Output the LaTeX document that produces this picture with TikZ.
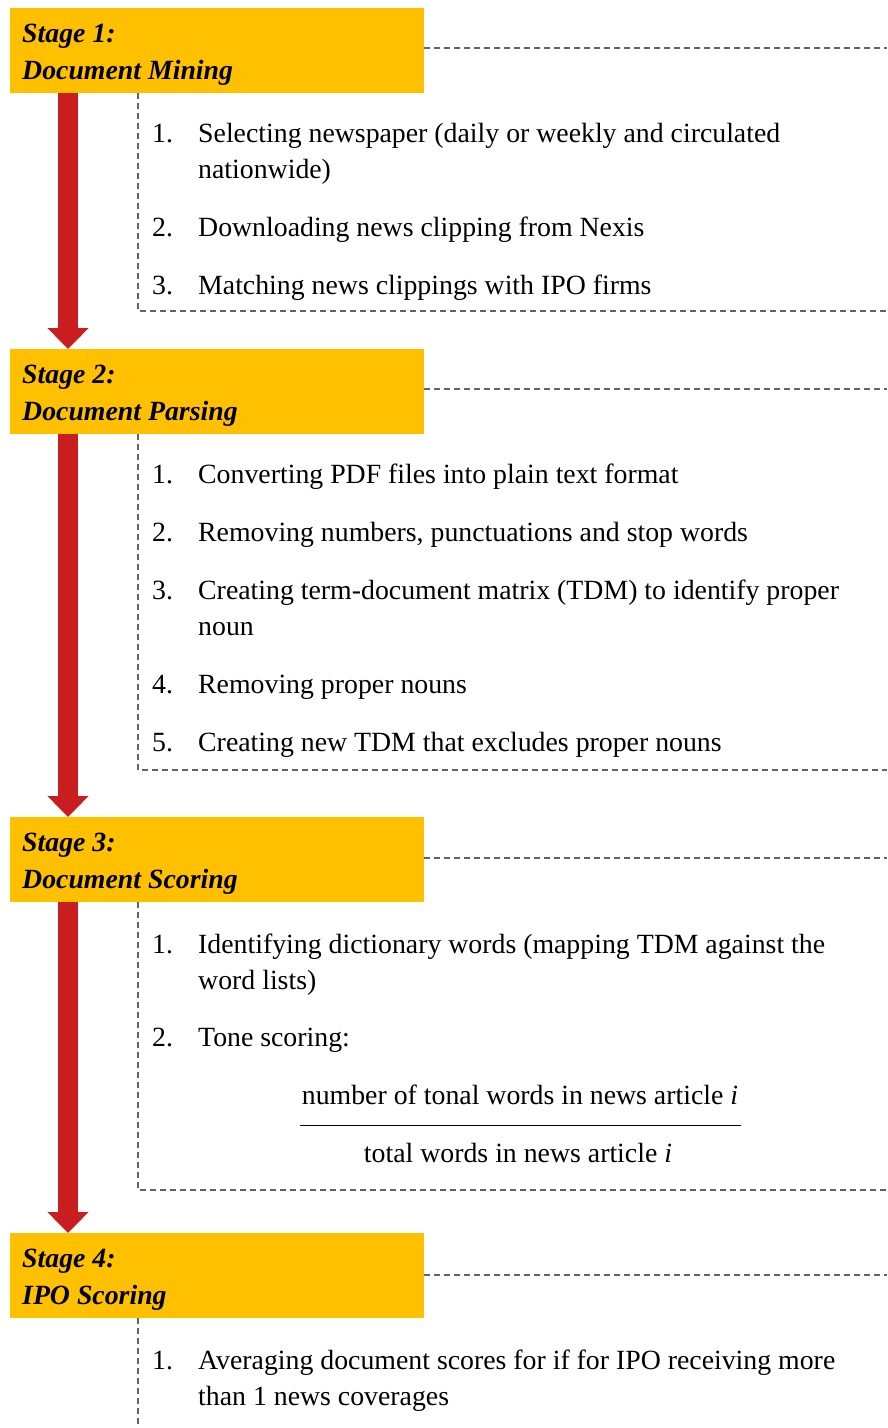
\documentclass[tikz,border=0pt]{standalone}
\usepackage{fontspec}
\setmainfont{Liberation Serif}
\usetikzlibrary{arrows.meta}
\definecolor{stageorange}{RGB}{255,192,0}
\definecolor{flowred}{RGB}{200,30,32}
\definecolor{framegray}{RGB}{100,100,100}
\begin{document}
\begin{tikzpicture}[x=1pt,y=-1pt,
  stagebox/.style={fill=stageorange, minimum width=414pt, minimum height=85pt, anchor=north west, inner sep=0pt},
  stagetext/.style={anchor=base west, inner sep=0pt, font=\fontsize{27.8}{36}\selectfont\bfseries\itshape},
  itemtext/.style={anchor=base west, inner sep=0pt, font=\fontsize{27.8}{36}\selectfont},
  midtext/.style={anchor=base, inner sep=0pt, font=\fontsize{27.8}{36}\selectfont},
  frame/.style={draw=framegray, line width=1.1pt, dash pattern=on 6pt off 4pt},
  flow/.style={draw=flowred, line width=20pt, -{Triangle[width=40pt,length=21pt]}, flowred}
]
\useasboundingbox (0,0) rectangle (887,1428);

% stage boxes
\node[stagebox] (s1) at (10,8) {};
\node[stagebox] (s2) at (10,349) {};
\node[stagebox] (s3) at (10,817) {};
\node[stagebox] (s4) at (10,1233) {};

\node[stagetext] (s1a) at (22,42) {Stage 1:};
\node[stagetext] (s1b) at (22,79) {Document Mining};
\node[stagetext] (s2a) at (22,383) {Stage 2:};
\node[stagetext] (s2b) at (22,420) {Document Parsing};
\node[stagetext] (s3a) at (22,851) {Stage 3:};
\node[stagetext] (s3b) at (22,888) {Document Scoring};
\node[stagetext] (s4a) at (22,1267) {Stage 4:};
\node[stagetext] (s4b) at (22,1304) {IPO Scoring};

% arrows
\coordinate (a1s) at (68,93);
\coordinate (a1e) at (68,349);
\coordinate (a2s) at (68,434);
\coordinate (a2e) at (68,817);
\coordinate (a3s) at (68,902);
\coordinate (a3e) at (68,1233);
\draw[flow] (a1s) -- (a1e);
\draw[flow] (a2s) -- (a2e);
\draw[flow] (a3s) -- (a3e);

% dashed frames
\coordinate (f1t) at (887,48);
\coordinate (f1l) at (138,93);
\coordinate (f1b) at (138,311);
\coordinate (f1r) at (887,311);
\draw[frame] (s1.east |- f1t) -- (f1t);
\draw[frame] (f1l) -- (f1b) -- (f1r);

\coordinate (f2t) at (887,389);
\coordinate (f2l) at (138,434);
\coordinate (f2b) at (138,770);
\coordinate (f2r) at (887,770);
\draw[frame] (s2.east |- f2t) -- (f2t);
\draw[frame] (f2l) -- (f2b) -- (f2r);

\coordinate (f3t) at (887,858);
\coordinate (f3l) at (138,902);
\coordinate (f3b) at (138,1190);
\coordinate (f3r) at (887,1190);
\draw[frame] (s3.east |- f3t) -- (f3t);
\draw[frame] (f3l) -- (f3b) -- (f3r);

\coordinate (f4t) at (887,1275);
\coordinate (f4l) at (138,1318);
\coordinate (f4b) at (138,1428);
\draw[frame] (s4.east |- f4t) -- (f4t);
\draw[frame] (f4l) -- (f4b);

% stage 1 items
\node[itemtext] (n11) at (152,142) {1.};
\node[itemtext] (t11) at (198,142) {Selecting newspaper (daily or weekly and circulated};
\node[itemtext] (t11b) at (198,178) {nationwide)};
\node[itemtext] (n12) at (152,236) {2.};
\node[itemtext] (t12) at (198,236) {Downloading news clipping from Nexis};
\node[itemtext] (n13) at (152,294) {3.};
\node[itemtext] (t13) at (198,294) {Matching news clippings with IPO firms};

% stage 2 items
\node[itemtext] (n21) at (152,483) {1.};
\node[itemtext] (t21) at (198,483) {Converting PDF files into plain text format};
\node[itemtext] (n22) at (152,541) {2.};
\node[itemtext] (t22) at (198,541) {Removing numbers, punctuations and stop words};
\node[itemtext] (n23) at (152,599) {3.};
\node[itemtext] (t23) at (198,599) {Creating term-document matrix (TDM) to identify proper};
\node[itemtext] (t23b) at (198,635) {noun};
\node[itemtext] (n24) at (152,693) {4.};
\node[itemtext] (t24) at (198,693) {Removing proper nouns};
\node[itemtext] (n25) at (152,751) {5.};
\node[itemtext] (t25) at (198,751) {Creating new TDM that excludes proper nouns};

% stage 3 items
\node[itemtext] (n31) at (152,953) {1.};
\node[itemtext] (t31) at (198,953) {Identifying dictionary words (mapping TDM against the};
\node[itemtext] (t31b) at (198,989) {word lists)};
\node[itemtext] (n32) at (152,1046) {2.};
\node[itemtext] (t32) at (198,1046) {Tone scoring:};
\node[midtext] (num) at (520,1104) {number of tonal words in news article \textit{i}};
\node[midtext] (den) at (518,1162) {total words in news article \textit{i}};
\coordinate (rl) at (300,1125);
\coordinate (rr) at (741,1125);
\draw[line width=1pt] (rl) -- (rr);

% stage 4 items
\node[itemtext] (n41) at (152,1369) {1.};
\node[itemtext] (t41) at (198,1369) {Averaging document scores for if for IPO receiving more};
\node[itemtext] (t41b) at (198,1405) {than 1 news coverages};
\end{tikzpicture}
\end{document}
